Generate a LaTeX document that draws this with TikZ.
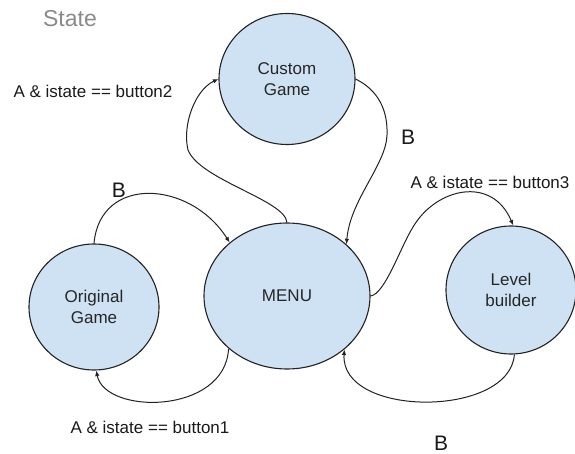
\documentclass[tikz,border=0pt]{standalone}
\usepackage{fontspec}
\setmainfont{Liberation Sans}
\usetikzlibrary{shapes.geometric,arrows.meta}
\definecolor{statefill}{HTML}{CFE2F3}
\definecolor{edgeline}{HTML}{222222}
\definecolor{titlegray}{HTML}{8A8A8A}
\tikzset{
  statenode/.style={ellipse, draw=edgeline, fill=statefill, line width=1.1pt,
    inner sep=0pt, align=center, text=black!85,
    font=\fontsize{17}{20.5}\selectfont},
  trans/.style={draw=edgeline, line width=1pt,
    -{Latex[length=5.5pt,width=4.5pt]}},
  cond/.style={text=black!90, font=\fontsize{17}{20}\selectfont},
  backkey/.style={text=black!90, inner sep=0pt, font=\fontsize{21}{23}\selectfont},
}
\begin{document}
\begin{tikzpicture}[x=1pt,y=-1pt]
\useasboundingbox (0,0) rectangle (575,454);

% title
\node[text=titlegray, font=\fontsize{23}{25}\selectfont] (title) at (70,19) {State};

% states
\node[statenode, minimum width=136pt, minimum height=131pt] (cg)   at (287,79)  {Custom\\Game};
\node[statenode, minimum width=166pt, minimum height=146pt] (menu) at (287,296) {MENU};
\node[statenode, minimum width=130pt, minimum height=126pt] (og)   at (94,307)  {Original\\Game};
\node[statenode, minimum width=130pt, minimum height=128pt] (lb)   at (511,290) {Level\\builder};

% transitions
\draw[trans] (og.90) .. controls (100,175) and (190,180) .. (menu.137);
\draw[trans] (menu.222) .. controls (225,415) and (105,415) .. (og.272);
\draw[trans] (menu.90) .. controls (285,200) and (200,180) .. (188,150)
                       .. controls (182,125) and (195,90) .. (cg.180);
\draw[trans] (cg.0) .. controls (378,90) and (388,110) .. (387,135)
                    .. controls (386,165) and (350,200) .. (menu.41);
\draw[trans] (menu.0) .. controls (385,294) and (400,248) .. (413,227)
                      .. controls (436,188) and (492,175) .. (lb.88);
\draw[trans] (lb.273) .. controls (510,418) and (340,418) .. (menu.317);

% labels
\node[cond] (l2) at (93,91)   {A \& istate == button2};
\node[cond] (l3) at (490,182) {A \& istate == button3};
\node[cond] (l1) at (150,427) {A \& istate == button1};
\node[backkey] (b1) at (119,190) {B};
\node[backkey] (b2) at (408,137) {B};
\node[backkey] (b3) at (441,443) {B};
\end{tikzpicture}
\end{document}
